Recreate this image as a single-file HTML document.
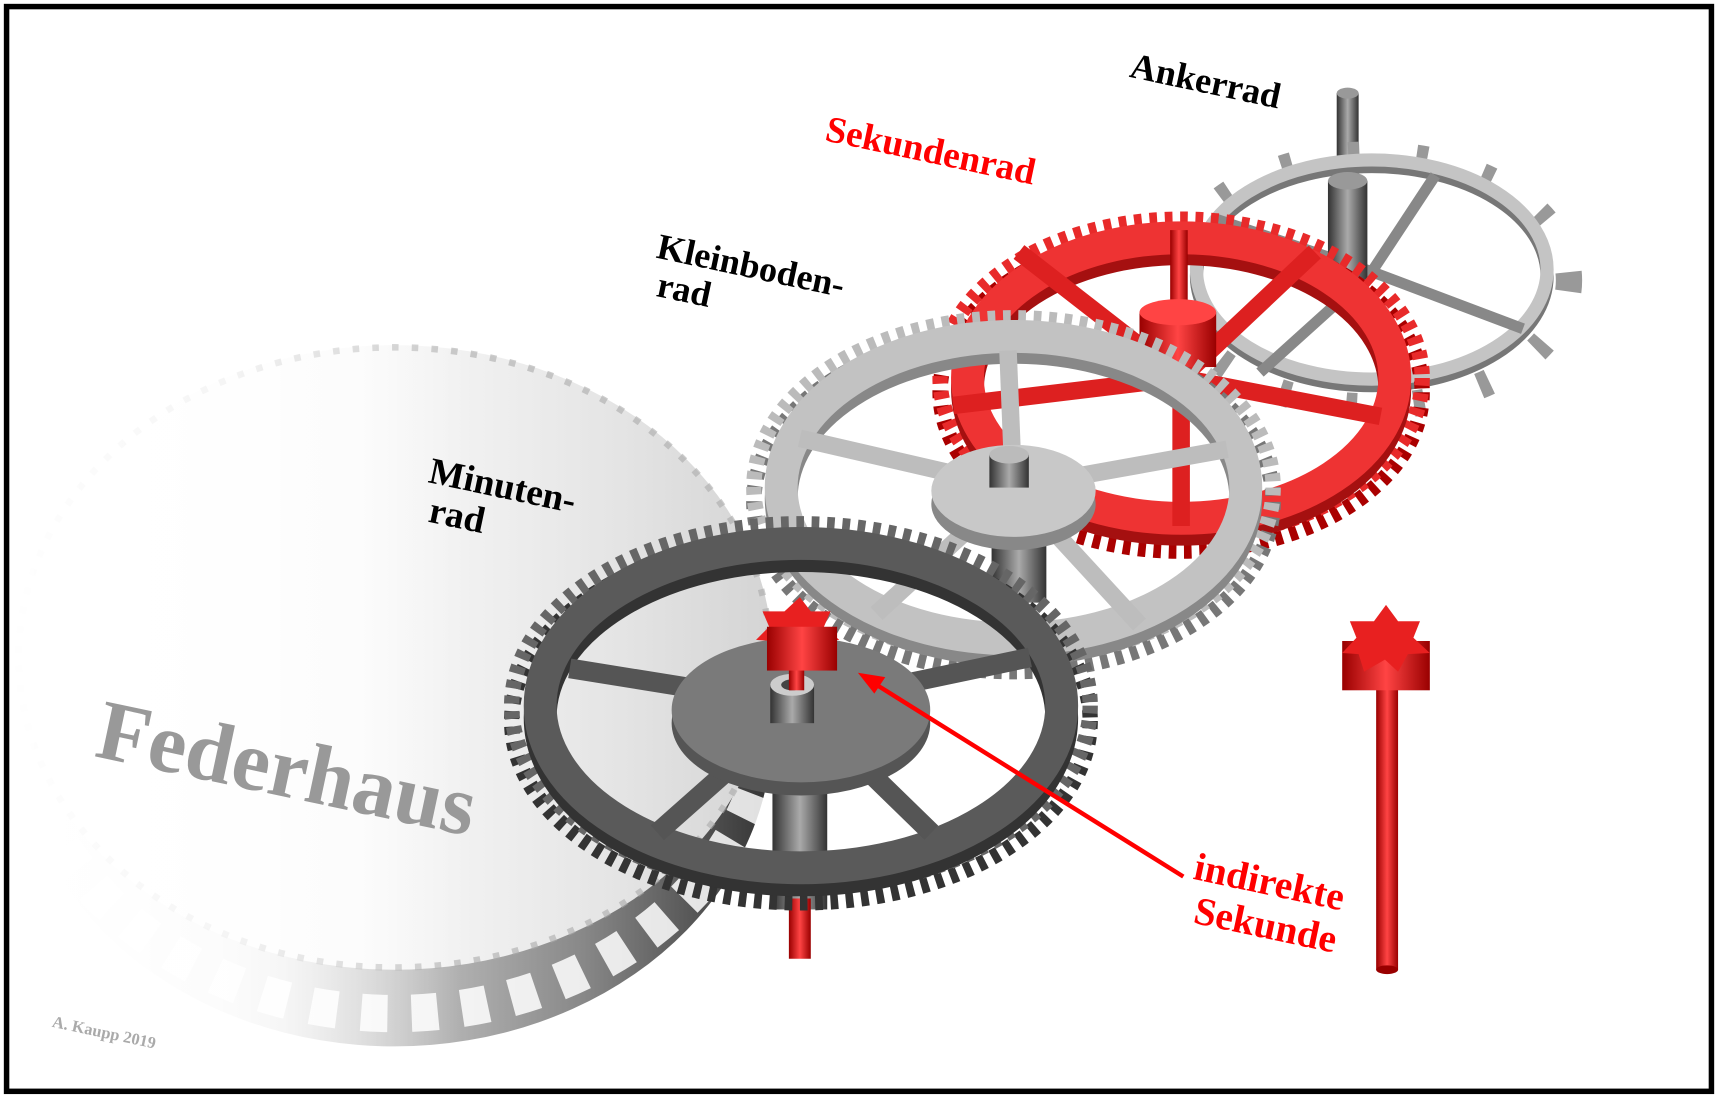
<!DOCTYPE html>
<html><head><meta charset="utf-8"><style>
html,body{margin:0;padding:0;background:#fff;}
svg{display:block;}
text{font-family:"Liberation Serif",serif;font-weight:bold;}
</style></head><body>
<svg width="1718" height="1099" viewBox="0 0 1568 1003" preserveAspectRatio="none" xmlns="http://www.w3.org/2000/svg">
<defs>
<linearGradient id="fed" x1="0" y1="0" x2="1" y2="0">
<stop offset="0" stop-color="#fff"/><stop offset="0.45" stop-color="#fafafa"/><stop offset="0.8" stop-color="#e4e4e4"/><stop offset="1" stop-color="#d4d4d4"/>
</linearGradient>
<linearGradient id="fedside" x1="0" y1="0" x2="1" y2="0">
<stop offset="0" stop-color="#fff"/><stop offset="0.35" stop-color="#e8e8e8"/><stop offset="0.75" stop-color="#888"/><stop offset="1" stop-color="#333"/>
</linearGradient>
<linearGradient id="fade" x1="0" y1="0" x2="1" y2="0">
<stop offset="0" stop-color="#fff" stop-opacity="1"/><stop offset="0.5" stop-color="#fff" stop-opacity="0.8"/><stop offset="1" stop-color="#fff" stop-opacity="0"/>
</linearGradient>
<linearGradient id="redshaft" x1="0" y1="0" x2="1" y2="0">
<stop offset="0" stop-color="#900"/><stop offset="0.5" stop-color="#f44"/><stop offset="1" stop-color="#900"/>
</linearGradient>
<linearGradient id="grayshaft" x1="0" y1="0" x2="1" y2="0">
<stop offset="0" stop-color="#333"/><stop offset="0.5" stop-color="#aaa"/><stop offset="1" stop-color="#333"/>
</linearGradient>
</defs>
<rect x="0" y="0" width="1568" height="1003" fill="#fff"/>

<!-- Ankerrad -->
<g>
<rect x="1220" y="85" width="20" height="200" fill="url(#grayshaft)"/>
<ellipse cx="1230" cy="85" rx="10" ry="5" fill="#999"/>
<ellipse cx="1252" cy="256" rx="180" ry="115" fill="none" stroke="#999" stroke-width="24" stroke-dasharray="10 52"/>
<ellipse cx="1252" cy="252" rx="160" ry="100" fill="none" stroke="#777" stroke-width="12"/>
<ellipse cx="1252" cy="246" rx="160" ry="100" fill="none" stroke="#c4c4c4" stroke-width="12"/>
<g stroke="#888" stroke-width="10">
<line x1="1252" y1="248" x2="1310" y2="160"/><line x1="1252" y1="248" x2="1390" y2="300"/>
<line x1="1252" y1="248" x2="1150" y2="340"/><line x1="1252" y1="248" x2="1110" y2="200"/>
</g>
<rect x="1212" y="165" width="36" height="90" fill="url(#grayshaft)"/>
<ellipse cx="1230" cy="165" rx="18" ry="8" fill="#999"/>
</g>

<!-- Sekundenrad -->
<g>
<ellipse cx="1078" cy="358" rx="220" ry="145" fill="none" stroke="#a00" stroke-width="14" stroke-dasharray="7 7"/>
<ellipse cx="1078" cy="345" rx="220" ry="145" fill="none" stroke="#e82a2a" stroke-width="14" stroke-dasharray="7 7"/>
<ellipse cx="1078" cy="355" rx="195" ry="128" fill="none" stroke="#a51010" stroke-width="30"/>
<ellipse cx="1078" cy="345" rx="195" ry="128" fill="none" stroke="#ee3333" stroke-width="30"/>
<g stroke="#dd2020" stroke-width="16">
<line x1="1078" y1="345" x2="930" y2="230"/><line x1="1078" y1="345" x2="1200" y2="230"/>
<line x1="1078" y1="345" x2="870" y2="370"/><line x1="1078" y1="345" x2="1260" y2="380"/>
<line x1="1078" y1="345" x2="1078" y2="480"/>
</g>
<rect x="1068" y="210" width="16" height="120" fill="url(#redshaft)"/>
<rect x="1040" y="285" width="70" height="50" fill="url(#redshaft)"/>
<ellipse cx="1075" cy="285" rx="35" ry="12" fill="#f44"/>
</g>

<!-- Federhaus -->
<g>
<ellipse cx="360" cy="665" rx="345" ry="290" fill="url(#fedside)"/>
<ellipse cx="360" cy="635" rx="345" ry="290" fill="none" stroke="#fff" stroke-width="34" stroke-dasharray="24 22" opacity="0.85"/>
<ellipse cx="360" cy="600" rx="345" ry="285" fill="url(#fed)"/>
<ellipse cx="360" cy="600" rx="343" ry="283" fill="none" stroke="#aaa" stroke-width="6" stroke-dasharray="6 12" opacity="0.6"/>
<rect x="0" y="300" width="420" height="680" fill="url(#fade)"/>
</g>

<!-- Kleinbodenrad -->
<g>
<rect x="905" y="470" width="50" height="80" fill="url(#grayshaft)"/>
<ellipse cx="925" cy="458" rx="237" ry="155" fill="none" stroke="#777" stroke-width="14" stroke-dasharray="7 7"/>
<ellipse cx="925" cy="445" rx="237" ry="155" fill="none" stroke="#bbb" stroke-width="14" stroke-dasharray="7 7"/>
<ellipse cx="925" cy="455" rx="212" ry="138" fill="none" stroke="#888" stroke-width="30"/>
<ellipse cx="925" cy="445" rx="212" ry="138" fill="none" stroke="#c2c2c2" stroke-width="30"/>
<g stroke="#bdbdbd" stroke-width="16">
<line x1="925" y1="445" x2="920" y2="320"/><line x1="925" y1="445" x2="1120" y2="410"/>
<line x1="925" y1="445" x2="1040" y2="570"/><line x1="925" y1="445" x2="800" y2="560"/>
<line x1="925" y1="445" x2="730" y2="400"/>
</g>
<ellipse cx="925" cy="460" rx="75" ry="42" fill="#888"/>
<ellipse cx="925" cy="448" rx="75" ry="42" fill="#c8c8c8"/>
<rect x="903" y="415" width="36" height="30" fill="url(#grayshaft)"/>
<ellipse cx="921" cy="415" rx="18" ry="8" fill="#bbb"/>
</g>

<!-- Minutenrad -->
<g>
<rect x="705" y="690" width="50" height="140" fill="url(#grayshaft)"/>
<rect x="720" y="820" width="20" height="55" fill="url(#redshaft)"/>
<ellipse cx="731" cy="658" rx="264" ry="166" fill="none" stroke="#333" stroke-width="14" stroke-dasharray="7 7"/>
<ellipse cx="731" cy="644" rx="264" ry="166" fill="none" stroke="#666" stroke-width="14" stroke-dasharray="7 7"/>
<ellipse cx="731" cy="655" rx="238" ry="148" fill="none" stroke="#333" stroke-width="30"/>
<ellipse cx="731" cy="644" rx="238" ry="148" fill="none" stroke="#5a5a5a" stroke-width="30"/>
<g stroke="#555" stroke-width="18">
<line x1="731" y1="644" x2="520" y2="610"/><line x1="731" y1="644" x2="940" y2="600"/>
<line x1="731" y1="644" x2="850" y2="760"/><line x1="731" y1="644" x2="600" y2="760"/>
</g>
<ellipse cx="731" cy="660" rx="118" ry="66" fill="#555"/>
<ellipse cx="731" cy="648" rx="118" ry="66" fill="#7a7a7a"/>
<rect x="703" y="625" width="40" height="35" fill="url(#grayshaft)"/>
<ellipse cx="723" cy="625" rx="20" ry="10" fill="#ccc"/>
<ellipse cx="723" cy="625" rx="10" ry="5" fill="#444"/>
<rect x="720" y="590" width="14" height="40" fill="url(#redshaft)"/>
<polygon points="730,545 740,558 758,558 752,572 766,584 748,585 740,600 728,590 710,600 706,585 690,584 702,572 696,558 716,558" fill="#e82020"/>
<rect x="700" y="572" width="64" height="40" fill="url(#redshaft)"/>
</g>

<!-- lone red pinion -->
<rect x="1256" y="600" width="20" height="285" fill="url(#redshaft)"/>
<ellipse cx="1266" cy="885" rx="10" ry="4" fill="#900"/>
<rect x="1225" y="585" width="80" height="45" fill="url(#redshaft)"/>
<polygon points="1265,552 1276,567 1296,567 1290,582 1305,596 1285,597 1276,613 1264,602 1245,613 1240,597 1225,596 1238,582 1232,567 1254,567" fill="#e82020"/>

<!-- arrow -->
<line x1="1080" y1="800" x2="800" y2="625" stroke="#f00" stroke-width="4"/>
<polygon points="783,614 808,618 798,633" fill="#f00"/>

<!-- labels -->
<text x="1030" y="70" font-size="33" fill="#000" transform="rotate(12 1030 70)">Ankerrad</text>
<text x="752" y="128" font-size="34" fill="#f00" transform="rotate(12 752 128)">Sekundenrad</text>
<text x="598" y="235" font-size="33" fill="#000" transform="rotate(12 598 235)">Kleinboden-</text>
<text x="598" y="270" font-size="33" fill="#000" transform="rotate(12 598 270)">rad</text>
<text x="390" y="440" font-size="34" fill="#000" transform="rotate(12 390 440)">Minuten-</text>
<text x="390" y="476" font-size="34" fill="#000" transform="rotate(12 390 476)">rad</text>
<text x="85" y="690" font-size="78" fill="#999" transform="rotate(12 85 690)">Federhaus</text>
<text x="1088" y="802" font-size="36" fill="#f00" transform="rotate(12 1088 802)">indirekte</text>
<text x="1088" y="842" font-size="36" fill="#f00" transform="rotate(12 1088 842)">Sekunde</text>
<text x="47" y="937" font-size="15" fill="#aaa" transform="rotate(12 47 937)">A. Kaupp 2019</text>

<rect x="6" y="6" width="1556" height="990" fill="none" stroke="#000" stroke-width="5"/>
</svg>
</body></html>
